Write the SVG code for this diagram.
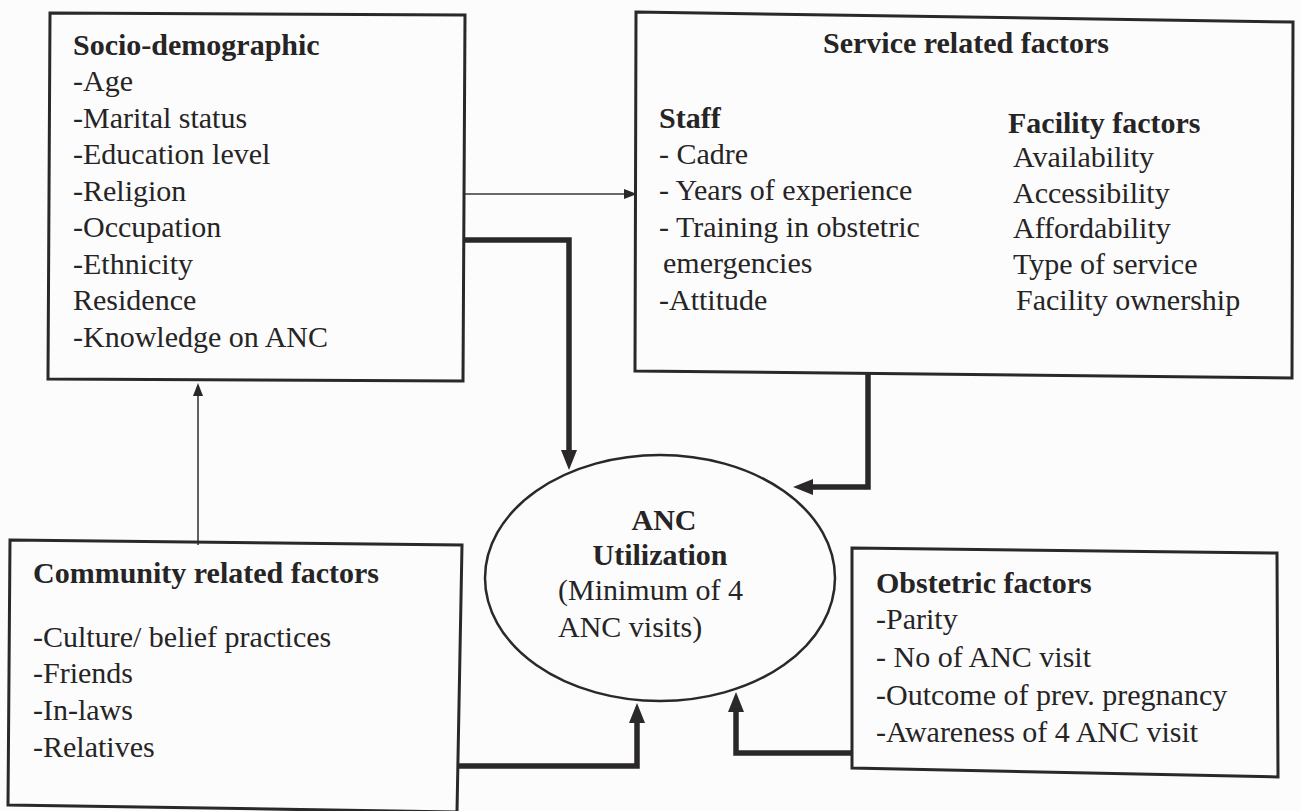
<svg xmlns="http://www.w3.org/2000/svg" width="1301" height="811" viewBox="0 0 1301 811">
<style>
.box{fill:none;stroke:#2a2828;stroke-width:3}
.thin{fill:none;stroke:#3a3838;stroke-width:1.6}
.thick{fill:none;stroke:#2a2828;stroke-width:5.5}
</style>
<defs>
<marker id="ah" viewBox="0 0 20 16" refX="10" refY="8" markerWidth="20" markerHeight="16" markerUnits="userSpaceOnUse" orient="auto">
<path d="M0,0 L20,8 L0,16 z" fill="#2a2828"/>
</marker>
<marker id="as" viewBox="0 0 13 10" refX="6" refY="5" markerWidth="13" markerHeight="10" markerUnits="userSpaceOnUse" orient="auto">
<path d="M0,0 L13,5 L0,10 z" fill="#2a2828"/>
</marker>
</defs>
<rect width="1301" height="811" fill="#fcfcfd"/>
<g id="connectors">
<path class="thin" d="M463 194 H630" marker-end="url(#as)"/>
<path class="thin" d="M198 545 V390" marker-end="url(#as)"/>
<path class="thick" d="M463 240 H569 V460" marker-end="url(#ah)"/>
<path class="thick" d="M868 373 V487 H803" marker-end="url(#ah)"/>
<path class="thick" d="M457 766 H637 V713" marker-end="url(#ah)"/>
<path class="thick" d="M852 753 H736 V702" marker-end="url(#ah)"/>
</g>
<g id="socio" fill="#262424">
<polygon class="box" points="50,13 465,15 463,381 48,379"/>
<text font-family="Liberation Serif" font-size="30" font-weight="bold" x="73" y="55">Socio-demographic</text>
<text font-family="Liberation Serif" font-size="30" x="73" y="91">-Age</text>
<text font-family="Liberation Serif" font-size="30" x="73" y="127.5">-Marital status</text>
<text font-family="Liberation Serif" font-size="30" x="73" y="164">-Education level</text>
<text font-family="Liberation Serif" font-size="30" x="73" y="200.5">-Religion</text>
<text font-family="Liberation Serif" font-size="30" x="73" y="237">-Occupation</text>
<text font-family="Liberation Serif" font-size="30" x="73" y="273.5">-Ethnicity</text>
<text font-family="Liberation Serif" font-size="30" x="73" y="310">Residence</text>
<text font-family="Liberation Serif" font-size="30" x="73" y="346.5">-Knowledge on ANC</text>
</g>
<g id="service" fill="#262424">
<polygon class="box" points="636,12 1293,22 1292,378 635,371"/>
<text font-family="Liberation Serif" font-size="30" font-weight="bold" x="966" y="53" text-anchor="middle">Service related factors</text>
<text font-family="Liberation Serif" font-size="30" font-weight="bold" x="659" y="128">Staff</text>
<text font-family="Liberation Serif" font-size="30" x="659" y="164">- Cadre</text>
<text font-family="Liberation Serif" font-size="30" x="659" y="200">- Years of experience</text>
<text font-family="Liberation Serif" font-size="30" x="659" y="237">- Training in obstetric</text>
<text font-family="Liberation Serif" font-size="30" x="663" y="273">emergencies</text>
<text font-family="Liberation Serif" font-size="30" x="659" y="310">-Attitude</text>
<text font-family="Liberation Serif" font-size="30" font-weight="bold" x="1008" y="133">Facility factors</text>
<text font-family="Liberation Serif" font-size="30" x="1013" y="167">Availability</text>
<text font-family="Liberation Serif" font-size="30" x="1013" y="203">Accessibility</text>
<text font-family="Liberation Serif" font-size="30" x="1013" y="238">Affordability</text>
<text font-family="Liberation Serif" font-size="30" x="1013" y="274">Type of service</text>
<text font-family="Liberation Serif" font-size="30" x="1016" y="310">Facility ownership</text>
</g>
<g id="community" fill="#262424">
<polygon class="box" points="10,540 462,545 457,812 8,805"/>
<text font-family="Liberation Serif" font-size="30" font-weight="bold" x="33" y="583">Community related factors</text>
<text font-family="Liberation Serif" font-size="30" x="33" y="647">-Culture/ belief practices</text>
<text font-family="Liberation Serif" font-size="30" x="33" y="683">-Friends</text>
<text font-family="Liberation Serif" font-size="30" x="33" y="720">-In-laws</text>
<text font-family="Liberation Serif" font-size="30" x="33" y="757">-Relatives</text>
</g>
<g id="obstetric" fill="#262424">
<polygon class="box" points="852,548 1277,553 1278,777 852,768"/>
<text font-family="Liberation Serif" font-size="30" font-weight="bold" x="876" y="593">Obstetric factors</text>
<text font-family="Liberation Serif" font-size="30" x="876" y="629">-Parity</text>
<text font-family="Liberation Serif" font-size="30" x="876" y="667">- No of ANC visit</text>
<text font-family="Liberation Serif" font-size="30" x="876" y="705">-Outcome of prev. pregnancy</text>
<text font-family="Liberation Serif" font-size="30" x="876" y="742">-Awareness of 4 ANC visit</text>
</g>
<g id="anc" fill="#262424">
<ellipse cx="660" cy="578" rx="175" ry="123" fill="none" stroke="#2a2828" stroke-width="2.5"/>
<text font-family="Liberation Serif" font-size="30" font-weight="bold" x="664" y="530" text-anchor="middle">ANC</text>
<text font-family="Liberation Serif" font-size="30" font-weight="bold" x="660" y="565" text-anchor="middle">Utilization</text>
<text font-family="Liberation Serif" font-size="30" x="558" y="600">(Minimum of 4</text>
<text font-family="Liberation Serif" font-size="30" x="558" y="637">ANC visits)</text>
</g>
</svg>
